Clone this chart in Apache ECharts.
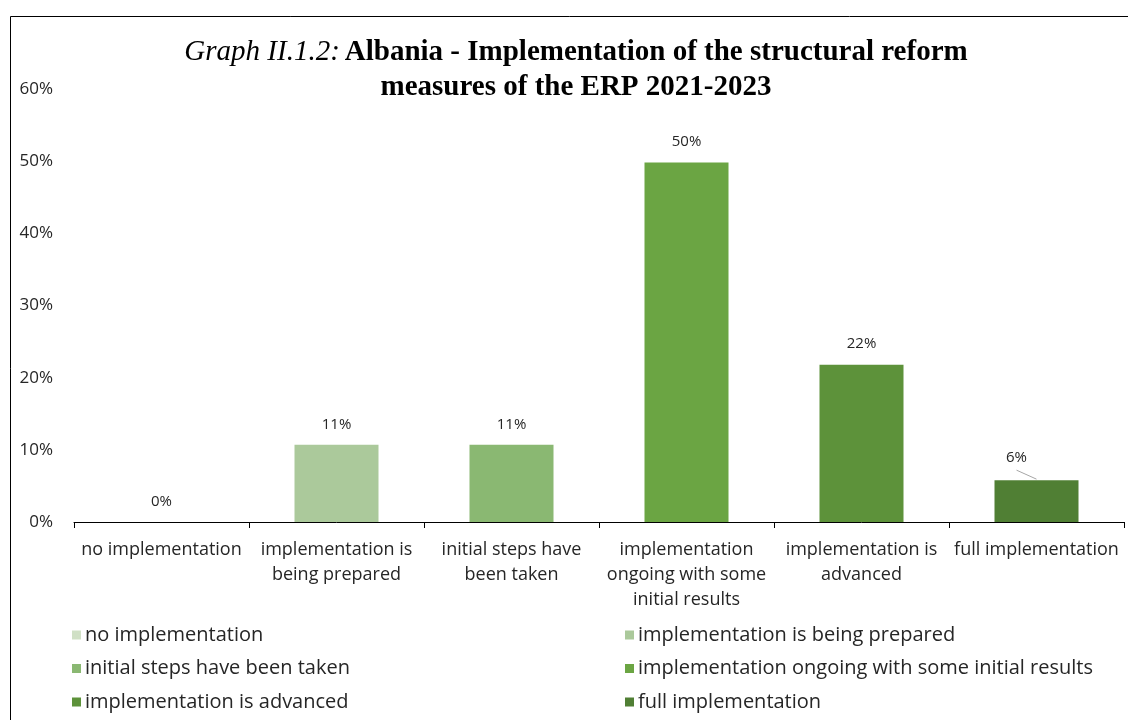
<!DOCTYPE html>
<html><head><meta charset="utf-8">
<script src="https://cdn.jsdelivr.net/npm/echarts@6/dist/echarts.min.js"></script>
<style>html,body{margin:0;padding:0;background:#fff}#c{width:1128px;height:720px}</style>
</head><body><div id="c"></div>
<script>
const categories = ['no implementation','implementation is being prepared','initial steps have been taken','implementation ongoing with some initial results','implementation is advanced','full implementation'];
const axisLabels = ['no implementation','implementation is\nbeing prepared','initial steps have\nbeen taken','implementation\nongoing with some\ninitial results','implementation is\nadvanced','full implementation'];
const values = [0, 10.7, 10.7, 49.8, 21.8, 5.8];
const colors = ['#d0e0c5','#abc99b','#8ab872','#6ba543','#5d923a','#507f34'];
const yMin = 0, yMax = 60, yStep = 10;

const FONT = 'Open Sans';
const chart = echarts.init(document.getElementById('c'));
const series = categories.map((name, i) => {
  const s = {
    name: name, type: 'bar', stack: 'all', barWidth: '48%',
    itemStyle: {color: colors[i]},
    data: categories.map((_, j) => j === i ? values[i] : null),
    label: {show: true, position: 'top', distance: 13, color: '#262626', fontFamily: FONT, fontSize: 15,
      formatter: p => Math.round(p.value) + '%'}
  };
  if (i === 5) {
    s.labelLayout = {dx: -20, dy: -2};
  }
  return s;
});
// leader line for the moved label of the last bar
series.push({
  type: 'custom', silent: true, z: 5,
  data: [[5, values[5]]],
  renderItem: function (params, api) {
    const p = api.coord([api.value(0), api.value(1)]);
    return {type: 'line', shape: {x1: p[0] - 20, y1: p[1] - 10, x2: p[0], y2: p[1] - 1},
      style: {stroke: '#a6a6a6', lineWidth: 1}};
  }
});
const legendText = {fontFamily: FONT, fontSize: 20, lineHeight: 20, color: '#262626', padding: [0,0,0,-1]};
chart.setOption({
  animation: false,
  title: {
    left: 571, top: 30, textAlign: 'center',
    text: '{i|Graph II.1.2:} {b|Albania - Implementation of the structural reform}\n{b|measures of the ERP 2021-2023}',
    textStyle: {
      rich: {
        i: {fontFamily: 'Liberation Serif', fontStyle: 'italic', fontWeight: 'normal', fontSize: 29, color: '#000', lineHeight: 35},
        b: {fontFamily: 'Liberation Serif', fontWeight: 'bold', fontSize: 29, color: '#000', lineHeight: 35}
      }
    }
  },
  graphic: [{type: 'rect', shape: {x: 10.5, y: 16.5, width: 1200, height: 800}, style: {fill: 'none', stroke: '#000', lineWidth: 1}, silent: true}],
  grid: {left: 74, right: 4, top: 89, bottom: 198},
  xAxis: {
    type: 'category', data: axisLabels,
    axisLine: {lineStyle: {color: '#000', width: 1}},
    axisTick: {show: true, length: 6, lineStyle: {color: '#000'}},
    axisLabel: {interval: 0, color: '#262626', fontFamily: FONT, fontSize: 18, lineHeight: 25, margin: 15}
  },
  yAxis: {
    type: 'value', min: yMin, max: yMax, interval: yStep,
    axisLine: {show: false}, axisTick: {show: false}, splitLine: {show: false},
    axisLabel: {formatter: v => v + '%', color: '#262626', fontFamily: FONT, fontSize: 17, margin: 21}
  },
  legend: [
    {data: [categories[0], categories[2], categories[4]], orient: 'vertical', left: 72, top: 625, padding: 0, height: 95,
     icon: 'rect', itemWidth: 9, itemHeight: 9, itemGap: 13.5, textStyle: legendText},
    {data: [categories[1], categories[3], categories[5]], orient: 'vertical', left: 625, top: 625, padding: 0, height: 95,
     icon: 'rect', itemWidth: 9, itemHeight: 9, itemGap: 13.5, textStyle: legendText}
  ],
  series: series
});
</script></body></html>
